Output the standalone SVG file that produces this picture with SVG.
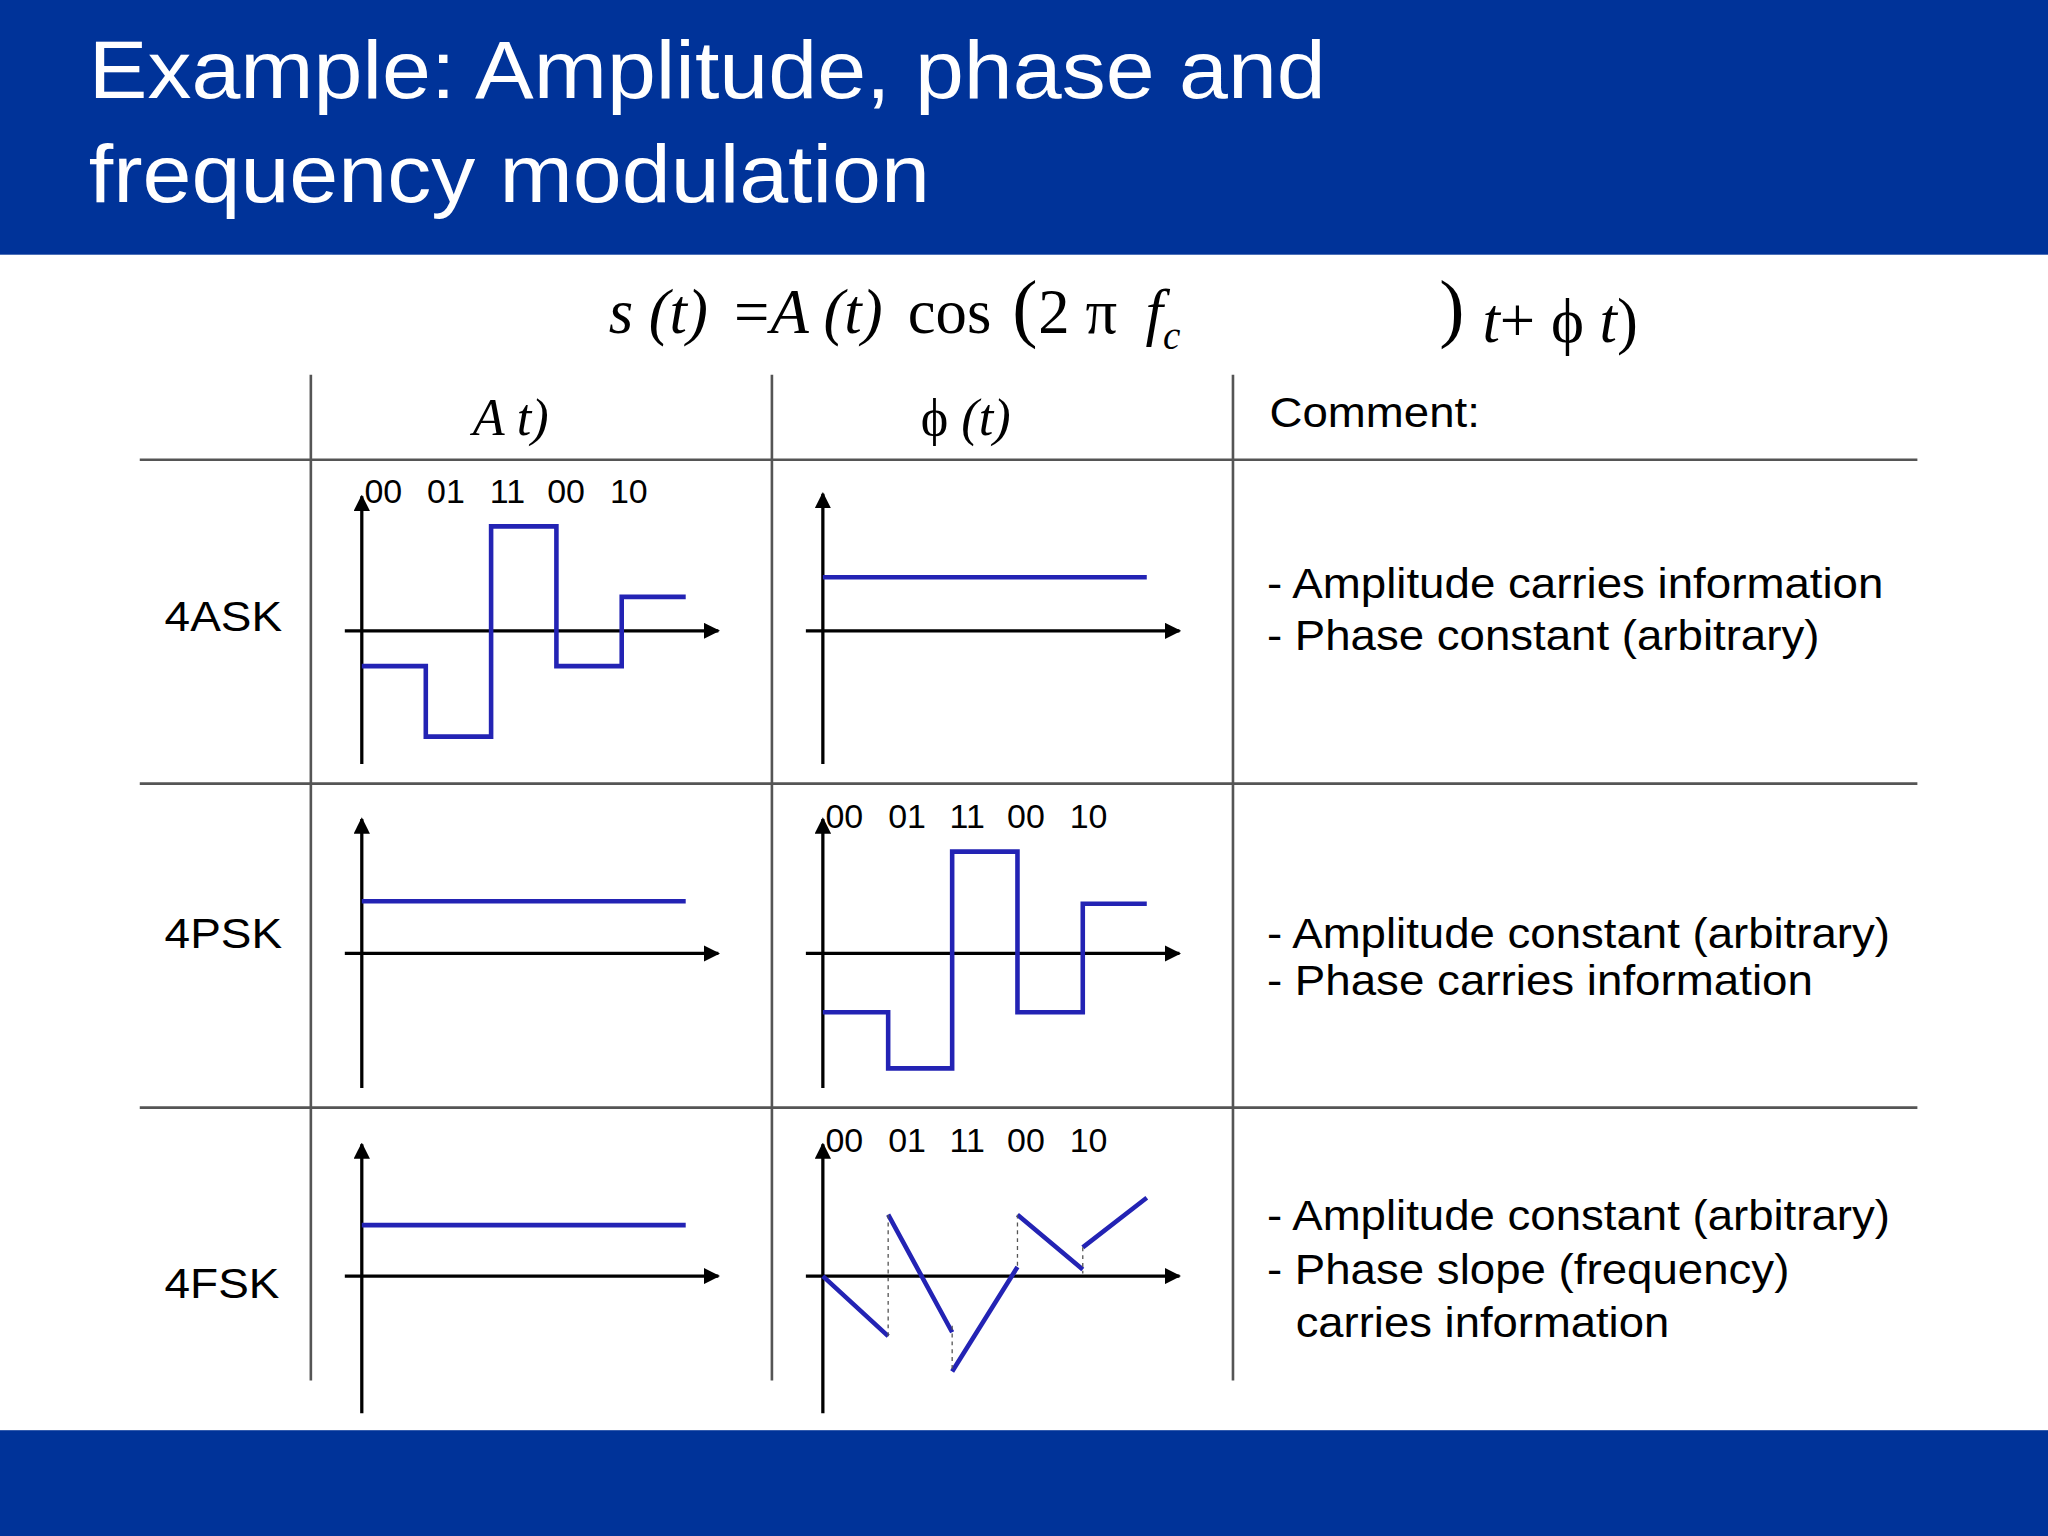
<svg xmlns="http://www.w3.org/2000/svg" width="2048" height="1536" viewBox="0 0 2048 1536">
<defs>
<marker id="ah" viewBox="0 0 10 10" refX="9" refY="5" markerWidth="5" markerHeight="5" orient="auto"><path d="M0,0 L10,5 L0,10 z" fill="#000"/></marker>
<style>
.ax{stroke:#000;stroke-width:2.5;fill:none;marker-end:url(#ah)}
.w{stroke:#2323b4;stroke-width:3.5;fill:none}
.d{stroke:#555;stroke-width:1;stroke-dasharray:3,3;fill:none}
.g{stroke:#555;stroke-width:2;fill:none}
.t{font-family:"Liberation Sans",Arial,sans-serif;fill:#000}
.m{font-family:"Liberation Serif","Times New Roman",serif;font-style:italic;fill:#000}
.n{font-style:normal}
.b{font-size:26px}
</style>
</defs>
<rect width="2048" height="1536" fill="#fff"/>
<g transform="scale(1.30612)">
<rect x="0" y="0" width="1568" height="195" fill="#003399"/>
<rect x="0" y="1095" width="1568" height="81" fill="#003399"/>
<text class="t" x="68" y="75" font-size="62" textLength="947" lengthAdjust="spacingAndGlyphs" style="fill:#fff">Example: Amplitude, phase and</text>
<text class="t" x="68" y="155" font-size="62" textLength="644" lengthAdjust="spacingAndGlyphs" style="fill:#fff">frequency modulation</text>
<g class="m" font-size="48">
<text x="466" y="255">s (t)</text>
<text x="562" y="255" class="n">=</text>
<text x="590" y="255">A (t)</text>
<text x="695" y="255" class="n">cos</text>
<text x="775" y="255" class="n" font-size="58">(</text>
<text x="795" y="255" class="n">2 π</text>
<text x="877" y="255">f<tspan font-size="30" dy="12">c</tspan></text>
<text x="1102" y="255" class="n" font-size="58">)</text>
<text x="1135" y="262">t<tspan class="n">+ ϕ</tspan>  t<tspan class="n">)</tspan></text>
</g>
<g id="grid">
<path class="g" d="M107 352H1468M107 600H1468M107 848H1468M238 287V1057M591 287V1057M944 287V1057"/>
</g>
<text class="m" x="362" y="333" font-size="40">A t)</text>
<text class="m" x="705" y="333" font-size="40"><tspan font-style="normal">ϕ</tspan> (t)</text>
<text class="t" x="972" y="327" font-size="33" textLength="161" lengthAdjust="spacingAndGlyphs">Comment:</text>
<text class="t" x="126" y="483" font-size="33" textLength="90" lengthAdjust="spacingAndGlyphs">4ASK</text>
<text class="t" x="126" y="726" font-size="33" textLength="90" lengthAdjust="spacingAndGlyphs">4PSK</text>
<text class="t" x="126" y="994" font-size="33" textLength="88" lengthAdjust="spacingAndGlyphs">4FSK</text>
<g id="r1a"><path class="ax" d="M277 585V380"/><path class="ax" d="M264 483H550"/>
<path class="w" d="M277 510H326V564H376V403H426V510H476V457H525"/>
<text class="t b" y="385"><tspan x="279">00</tspan><tspan x="327">01</tspan><tspan x="375">11</tspan><tspan x="419">00</tspan><tspan x="467">10</tspan></text></g>
<g id="r1p"><path class="ax" d="M630 585V378"/><path class="ax" d="M617 483H903"/><path class="w" d="M630 442H878"/></g>
<g id="r2a"><path class="ax" d="M277 833V627"/><path class="ax" d="M264 730H550"/><path class="w" d="M277 690H525"/></g>
<g id="r2p"><path class="ax" d="M630 833V627"/><path class="ax" d="M617 730H903"/>
<path class="w" d="M630 775H680V818H729V652H779V775H829V692H878"/>
<text class="t b" y="634"><tspan x="632">00</tspan><tspan x="680">01</tspan><tspan x="727">11</tspan><tspan x="771">00</tspan><tspan x="819">10</tspan></text></g>
<g id="r3a"><path class="ax" d="M277 1082V876"/><path class="ax" d="M264 977H550"/><path class="w" d="M277 938H525"/></g>
<g id="r3p"><path class="ax" d="M630 1082V876"/><path class="ax" d="M617 977H903"/>
<path class="w" d="M630 977L680 1023M680 930L729 1020M729 1050L779 970M779 930L829 972M829 955L878 917"/>
<path class="d" d="M680 1023V930M729 1015V1050M779 930V970M829 955V975"/>
<text class="t b" y="882"><tspan x="632">00</tspan><tspan x="680">01</tspan><tspan x="727">11</tspan><tspan x="771">00</tspan><tspan x="819">10</tspan></text></g>
<g class="t" font-size="32">
<text x="970" y="458" textLength="472" lengthAdjust="spacingAndGlyphs">- Amplitude carries information</text>
<text x="970" y="498" textLength="423" lengthAdjust="spacingAndGlyphs">- Phase constant (arbitrary)</text>
<text x="970" y="726" textLength="477" lengthAdjust="spacingAndGlyphs">- Amplitude constant (arbitrary)</text>
<text x="970" y="762" textLength="418" lengthAdjust="spacingAndGlyphs">- Phase carries information</text>
<text x="970" y="942" textLength="477" lengthAdjust="spacingAndGlyphs">- Amplitude constant (arbitrary)</text>
<text x="970" y="983" textLength="400" lengthAdjust="spacingAndGlyphs">- Phase slope (frequency)</text>
<text x="992" y="1024" textLength="286" lengthAdjust="spacingAndGlyphs">carries information</text>
</g>
</g>
</svg>
